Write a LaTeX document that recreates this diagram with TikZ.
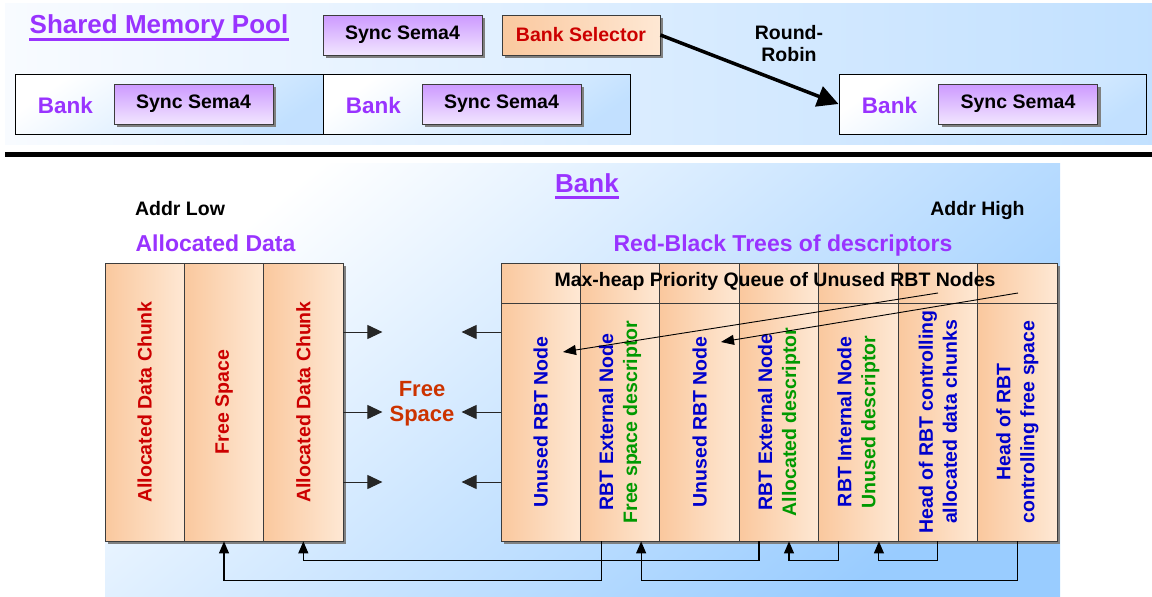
\documentclass[tikz,border=0pt]{standalone}
\usepackage{fontspec}
\setmainfont{Liberation Sans}
\usetikzlibrary{arrows.meta,shadows}
\definecolor{purp}{RGB}{153,51,255}
\definecolor{dred}{RGB}{204,0,0}
\definecolor{ored}{RGB}{204,51,0}
\definecolor{rblue}{RGB}{0,0,204}
\definecolor{rgreen}{RGB}{0,153,0}
\definecolor{peachA}{RGB}{250,200,158}
\definecolor{peachB}{RGB}{254,232,212}
\definecolor{lavA}{RGB}{204,153,255}
\definecolor{lavB}{RGB}{242,230,255}
\definecolor{skyA}{RGB}{153,204,255}
\definecolor{skyB}{RGB}{248,251,255}
\definecolor{bord}{RGB}{60,60,60}
\tikzset{
  t195/.style={font=\bfseries\fontsize{19.5}{24}\selectfont},
  ttl/.style={font=\bfseries\fontsize{26}{30}\selectfont, text=purp, inner sep=0pt},
  sub/.style={font=\bfseries\fontsize{23}{27}\selectfont, text=purp},
  banklbl/.style={font=\bfseries\fontsize{22.5}{26}\selectfont, text=purp, anchor=base},
  shad/.style={drop shadow={shadow xshift=3pt, shadow yshift=-3pt, fill=black!50, opacity=1}},
  sema/.style={t195, draw=bord, line width=0.8pt, top color=lavA, bottom color=lavB, minimum width=159pt, minimum height=40pt, inner sep=0pt, shad},
  selbox/.style={t195, text=dred, draw=bord, line width=0.8pt, left color=peachA, right color=peachB, minimum width=158pt, minimum height=40pt, inner sep=0pt, shad},
  bankbox/.style={draw=black, line width=1pt, top color=white, bottom color=skyA!60, shading angle=35, inner sep=0pt, minimum height=60pt},
  col/.style={draw=bord, line width=0.8pt, left color=peachA, right color=peachB, inner sep=0pt},
  coltext/.style={t195, rotate=90, align=center},
  ul/.style={purp, line width=3pt},
  marr/.style={draw=black!85, line width=1pt, -{Triangle[length=15pt,width=14pt]}},
  darr/.style={line width=0.9pt, -{Triangle[length=13pt,width=10pt]}},
  barr/.style={line width=1.1pt, -{Triangle[length=12pt,width=10pt]}},
  rrarr/.style={line width=3.5pt, -{Triangle[length=21pt,width=21pt]}},
}
\begin{document}
\begin{tikzpicture}[x=1pt,y=-1pt]
\useasboundingbox (0,0) rectangle (1152,597);
% top area background
\shade[left color=skyB, right color=skyA!60] (5,3) rectangle (1152,144);
\node[ttl, anchor=base] (smp) at (159,34) {Shared Memory Pool};
\draw[ul] ([yshift=-5.5pt]smp.base west) -- ([yshift=-5.5pt]smp.base east);
\node[sema] (ss0) at (402.5,35) {Sync Sema4};
\node[selbox] (sel) at (581,35) {Bank Selector};
\node[t195, align=center, font=\bfseries\fontsize{19.5}{22}\selectfont] (rr) at (789,44) {Round-\\Robin};
\node[bankbox, minimum width=308pt] (bk1) at (169,104) {};
\node[bankbox, minimum width=307pt] (bk2) at (476.5,104) {};
\node[bankbox, minimum width=307pt] (bk3) at (992.5,104) {};
\node[banklbl] (bk1l) at (65.5,113) {Bank};
\node[banklbl] (bk2l) at (373.5,113) {Bank};
\node[banklbl] (bk3l) at (889.5,113) {Bank};
\node[sema] (bk1s) at (193.5,104) {Sync Sema4};
\node[sema] (bk2s) at (501.5,104) {Sync Sema4};
\node[sema] (bk3s) at (1018,104) {Sync Sema4};
\draw[rrarr] (sel.east) -- (bk3.west);
% separator
\draw[line width=5pt] (5,154.5) -- (1152,154.5);
% lower background
\shade[top color=white, bottom color=skyA, shading angle=40] (105,163) rectangle (1060,597);
\node[ttl, anchor=base] (bt) at (587,192) {Bank};
\draw[ul] ([yshift=-5pt]bt.base west) -- ([yshift=-5pt]bt.base east);
\node[t195, anchor=base] (al) at (180,215) {Addr Low};
\node[t195, anchor=base] (ah) at (977.5,215) {Addr High};
\node[sub, anchor=base] (ad) at (215.5,251) {Allocated Data};
\node[sub, anchor=base] (rb) at (783,251) {Red-Black Trees of descriptors};
% block shadows
\fill[black!50] (108,266) rectangle (346,544);
\fill[black!50] (504,266) rectangle (1060,544);
% left block
\foreach \i in {1,2,3}
  \node[col, minimum width=79.33pt, minimum height=278pt] (l\i) at ({105+79.33*(\i-0.5)},402) {};
\node[coltext, text=dred] (l1t) at (l1) {Allocated Data Chunk};
\node[coltext, text=dred] (l2t) at (l2) {Free Space};
\node[coltext, text=dred] (l3t) at (l3) {Allocated Data Chunk};
% right block
\foreach \i in {1,...,7}
  \node[col, minimum width=79.43pt, minimum height=40pt] (h\i) at ({501+79.43*(\i-0.5)},283) {};
\foreach \i in {1,...,7}
  \node[col, minimum width=79.43pt, minimum height=238pt] (r\i) at ({501+79.43*(\i-0.5)},422) {};
\node[t195, anchor=base] (hq) at (775,286) {Max-heap Priority Queue of Unused RBT Nodes};
\node[coltext, text=rblue] (r1t) at (r1) {Unused RBT Node};
\node[coltext] (r2t) at (r2) {{\color{rblue}RBT External Node}\\{\color{rgreen}Free space descriptor}};
\node[coltext, text=rblue] (r3t) at (r3) {Unused RBT Node};
\node[coltext] (r4t) at (r4) {{\color{rblue}RBT External Node}\\{\color{rgreen}Allocated descriptor}};
\node[coltext] (r5t) at (r5) {{\color{rblue}RBT Internal Node}\\{\color{rgreen}Unused descriptor}};
\node[coltext, text=rblue] (r6t) at (r6) {Head of RBT controlling\\allocated data chunks};
\node[coltext, text=rblue] (r7t) at (r7) {Head of RBT\\controlling free space};
% free space in the middle
\node[sub, text=ored, align=center, font=\bfseries\fontsize{22}{25}\selectfont] (fs) at (422,404) {Free\\Space};
\draw[marr] ([yshift=70pt]l3.east) -- ++(39,0);
\draw[marr] ([yshift=-10pt]l3.east) -- ++(39,0);
\draw[marr] ([yshift=-80pt]l3.east) -- ++(39,0);
\draw[marr] ([yshift=90pt]r1.west) -- ++(-39,0);
\draw[marr] ([yshift=10pt]r1.west) -- ++(-39,0);
\draw[marr] ([yshift=-60pt]r1.west) -- ++(-39,0);
% queue links
\coordinate (q1) at (938,293);
\coordinate (q1e) at (563,352);
\coordinate (q2) at (1018,293);
\coordinate (q2e) at (721,342);
\draw[darr] (q1) -- (q1e);
\draw[darr] (q2) -- (q2e);
% bottom connectors
\draw[barr] ([xshift=-19pt]r2.south) -- ++(0,39) -| (l2.south);
\draw[barr] ([xshift=-20pt]r4.south) -- ++(0,19) -| (l3.south);
\draw[barr] (r7.south) -- ++(0,39) -| ([xshift=21pt]r2.south);
\draw[barr] ([xshift=-19.5pt]r5.south) -- ++(0,19) -| ([xshift=10pt]r4.south);
\draw[barr] (r6.south) -- ++(0,19) -| ([xshift=20.5pt]r5.south);
\end{tikzpicture}
\end{document}
